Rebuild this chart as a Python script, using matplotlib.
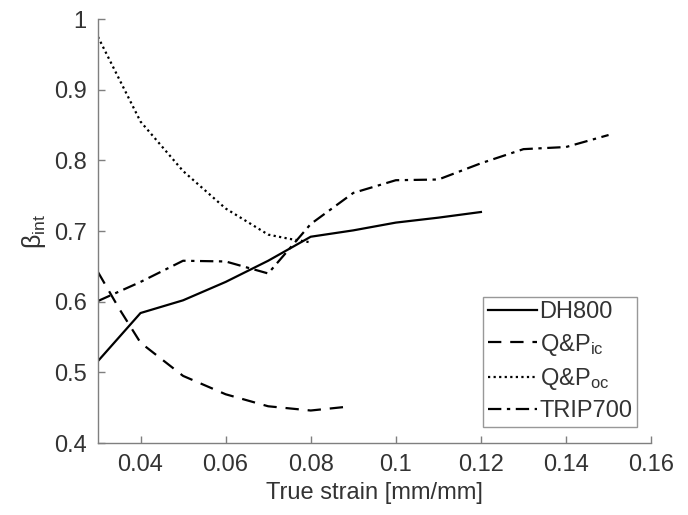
import matplotlib as mpl
import matplotlib.pyplot as plt

# General plot parameters
mpl.rcParams['font.family'] = ['Liberation Sans', 'DejaVu Sans']
mpl.rcParams['mathtext.fontset'] = 'custom'
mpl.rcParams['mathtext.rm'] = 'Liberation Sans'
mpl.rcParams['mathtext.it'] = 'Liberation Sans'

# data
dh800_x = [0.03, 0.04, 0.05, 0.06, 0.07, 0.08, 0.09, 0.10, 0.11, 0.12]
dh800_y = [0.516, 0.584, 0.602, 0.628, 0.658, 0.692, 0.701, 0.712, 0.719, 0.727]

qp_ic_x = [0.03, 0.035, 0.04, 0.05, 0.06, 0.07, 0.08, 0.088]
qp_ic_y = [0.642, 0.59, 0.542, 0.495, 0.469, 0.452, 0.446, 0.451]

qp_oc_x = [0.03, 0.04, 0.05, 0.06, 0.07, 0.075, 0.08]
qp_oc_y = [0.975, 0.855, 0.785, 0.732, 0.695, 0.689, 0.684]

trip_x = [0.03, 0.04, 0.05, 0.06, 0.07, 0.08, 0.09, 0.10, 0.11, 0.12, 0.13, 0.14, 0.15]
trip_y = [0.601, 0.628, 0.658, 0.657, 0.640, 0.710, 0.754, 0.772, 0.773, 0.796, 0.816, 0.819, 0.836]

xticks = [0.04, 0.06, 0.08, 0.1, 0.12, 0.14, 0.16]
xtick_labels = ['0.04', '0.06', '0.08', '0.1', '0.12', '0.14', '0.16']
yticks = [0.4, 0.5, 0.6, 0.7, 0.8, 0.9, 1.0]
ytick_labels = ['0.4', '0.5', '0.6', '0.7', '0.8', '0.9', '1']

axis_col = '#7f7f7f'
text_col = '#333333'

fig = plt.figure(figsize=(6.88, 5.15), dpi=100)
ax = fig.add_axes([0.1424, 0.1398, 0.804, 0.823])

ax.plot(dh800_x, dh800_y, color='black', lw=1.6, ls='-', label='DH800')
ax.plot(qp_ic_x, qp_ic_y, color='black', lw=1.6, ls=(0, (6, 4)), label='Q&P$_\\mathrm{ic}$')
ax.plot(qp_oc_x, qp_oc_y, color='black', lw=1.6, ls=(0, (1, 1.5)), label='Q&P$_\\mathrm{oc}$')
ax.plot(trip_x, trip_y, color='black', lw=1.6, ls=(0, (6, 2.5, 1.5, 2.5)), label='TRIP700')

ax.set_xlim(0.03, 0.16)
ax.set_ylim(0.4, 1.0)
ax.set_xticks(xticks)
ax.set_xticklabels(xtick_labels)
ax.set_yticks(yticks)
ax.set_yticklabels(ytick_labels)

# MATLAB-like look: no box, ticks inward, grey axes
ax.spines['top'].set_visible(False)
ax.spines['right'].set_visible(False)
for s in ['left', 'bottom']:
    ax.spines[s].set_color(axis_col)
    ax.spines[s].set_linewidth(1.0)
ax.tick_params(direction='in', length=5, width=1.0, color=axis_col,
               labelsize=17, labelcolor=text_col, pad=8)

ax.set_xlabel('True strain [mm/mm]', fontsize=17, color=text_col, labelpad=4)
ax.set_ylabel('β$_\\mathrm{int}$', fontsize=18, color=text_col, labelpad=4)

leg = ax.legend(loc='lower right', bbox_to_anchor=(0.975, 0.038), fontsize=17,
                frameon=True, fancybox=False, handlelength=2.1, handletextpad=0.1,
                borderpad=0.2, labelspacing=0.35, borderaxespad=0)
leg.get_frame().set_edgecolor(axis_col)
leg.get_frame().set_linewidth(1.0)
for t in leg.get_texts():
    t.set_color(text_col)

fig.savefig('out.png', dpi=100)
